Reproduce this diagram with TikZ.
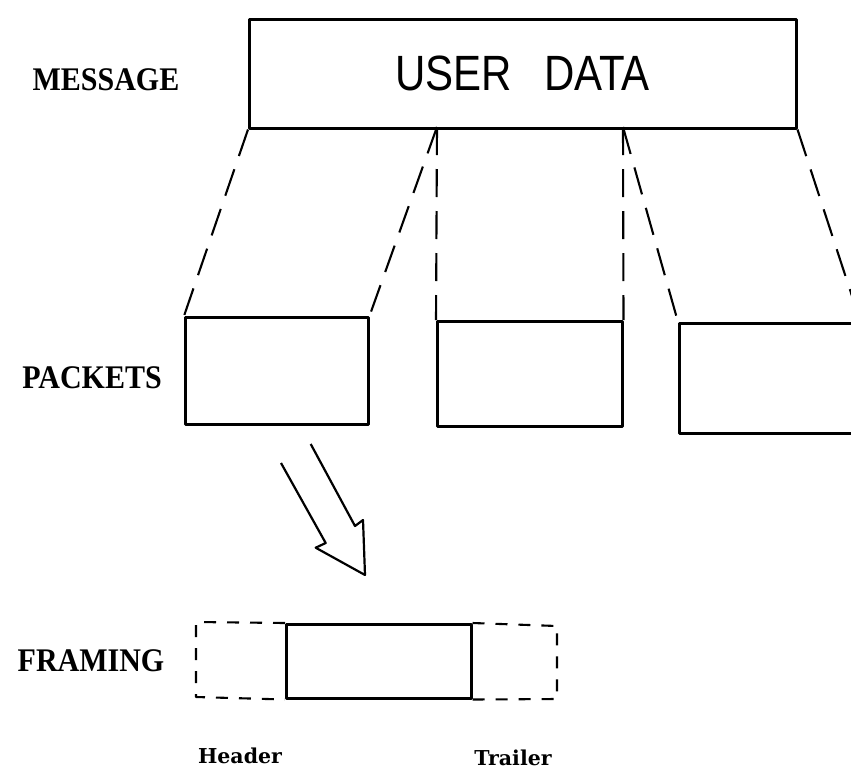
\documentclass[tikz,border=0pt]{standalone}
\usepackage{fontspec}
\setmainfont{Liberation Serif}
\newfontfamily\datafont{Liberation Sans}
\newfontfamily\partfont{DejaVu Serif}
\begin{document}
\begin{tikzpicture}[x=1pt,y=-1pt,
  line join=round,
  box/.style={draw, line width=2.5pt, inner sep=0pt, anchor=north west},
  guide/.style={line width=2.1pt, dash pattern=on 28pt off 14pt},
  framedash/.style={line width=2.1pt, dash pattern=on 12pt off 11pt},
  rowlabel/.style={font=\fontsize{30}{32}\selectfont\bfseries},
  partlabel/.style={font=\partfont\bfseries\fontsize{20.5}{22}\selectfont}
]
\useasboundingbox (0,0) rectangle (851,774);
\clip (0,0) rectangle (851,774);

% message
\node[box, minimum width=547pt, minimum height=109pt,
      font=\datafont\fontsize{42}{46}\selectfont] (msg) at (248,18)
      {\scalebox{1}[1.18]{USER\hspace{32pt}DATA}};
\node[rowlabel] (lmsg) at (106,80) {\scalebox{1}[1.1]{MESSAGE}};

% split points along the bottom of the message
\coordinate (s1) at (437,127);
\coordinate (s2) at (623,127);

% packets
\node[box, minimum width=183pt, minimum height=107pt] (p1) at (184,316) {};
\node[box, minimum width=185pt, minimum height=105pt] (p2) at (436,320) {};
\node[box, minimum width=180pt, minimum height=110pt] (p3) at (678,322) {};
\node[rowlabel] (lpk) at (92,378) {\scalebox{1}[1.1]{PACKETS}};

% dashed guides from message to packets
\draw[guide] (msg.south west) -- (p1.north west);
\draw[guide] (s1) -- (p1.north east);
\draw[guide] (s1) -- (p2.north west);
\draw[guide] (s2) -- (p2.north east);
\draw[guide] (s2) -- (p3.north west);
\draw[guide] (msg.south east) -- (p3.north east);

% hollow arrow
\draw[line width=2.2pt] (281,463) -- (325.7,543) -- (315.7,547.7) -- (365,575)
  -- (363,520) -- (355,526) -- (310.7,444);

% framing
\node[box, minimum width=185pt, minimum height=74pt] (fr) at (285,623) {};
\coordinate (h1) at (196,622);
\coordinate (h2) at (196,697);
\coordinate (t1) at (557,626);
\coordinate (t2) at (557,699);
\draw[framedash] (fr.north west) -- (h1) -- (h2) -- (fr.south west);
\draw[framedash] (fr.north east) -- (t1) -- (t2) -- (fr.south east);
\node[rowlabel] (lfr) at (91,661) {\scalebox{1}[1.1]{FRAMING}};
\node[partlabel] (lh) at (240,756) {Header};
\node[partlabel] (lt) at (513,758) {Trailer};
\end{tikzpicture}
\end{document}
